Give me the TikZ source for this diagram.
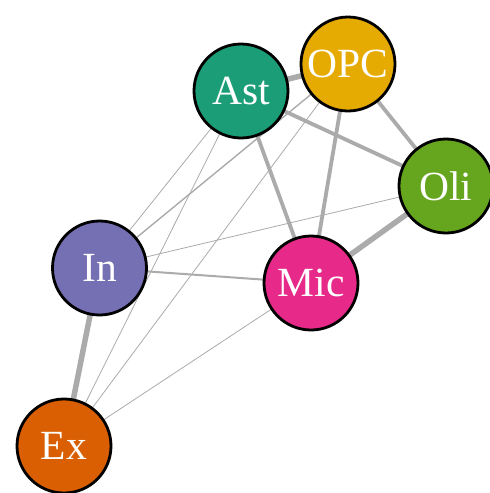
\documentclass[tikz,border=0pt]{standalone}
\usepackage{fontspec}
\setmainfont{Liberation Serif}
\usetikzlibrary{backgrounds}
\definecolor{cAst}{HTML}{1B9E77}
\definecolor{cOPC}{HTML}{E6AB02}
\definecolor{cOli}{HTML}{66A61E}
\definecolor{cIn}{HTML}{7570B3}
\definecolor{cMic}{HTML}{E7298A}
\definecolor{cEx}{HTML}{D95F02}
\definecolor{edgegray}{HTML}{ABABAB}
\begin{document}
\begin{tikzpicture}[x=1pt,y=-1pt,
  vert/.style={circle,draw=black,line width=2.8pt,minimum size=94pt,inner sep=0pt,
    text=white,font=\fontsize{41.5}{41.5}\selectfont},
  e/.style={draw=edgegray,line cap=butt},
  w1/.style={e,line width=0.8pt},
  w2/.style={e,line width=1.4pt},
  w3/.style={e,line width=2pt},
  w4/.style={e,line width=3.8pt},
  w5/.style={e,line width=5.5pt}]
\useasboundingbox (0,0) rectangle (490,493);
\clip (0,0) rectangle (490,493);
\node[vert,fill=cAst] (Ast) at (241,91) {Ast};
\node[vert,fill=cOPC] (OPC) at (348,64) {OPC};
\node[vert,fill=cOli] (Oli) at (446,186) {Oli};
\node[vert,fill=cIn] (In) at (99.5,268) {In};
\node[vert,fill=cMic] (Mic) at (311,283) {Mic};
\node[vert,fill=cEx] (Ex) at (64,446) {Ex};
\begin{pgfonlayer}{background}
\fill[white] (0,0) rectangle (490,493);
\draw[w5] (Ast.center) -- (OPC.center);
\draw[w4] (OPC.center) -- (Oli.center);
\draw[w4] (Ast.center) -- (Oli.center);
\draw[w4] (Ast.center) -- (Mic.center);
\draw[w4] (OPC.center) -- (Mic.center);
\draw[w5] (Oli.center) -- (Mic.center);
\draw[w1] (In.center) -- (Ast.center);
\draw[w2] (In.center) -- (OPC.center);
\draw[w1] (In.center) -- (Oli.center);
\draw[w3] (In.center) -- (Mic.center);
\draw[w5] (In.center) -- (Ex.center);
\draw[w1] (Ex.center) -- (Ast.center);
\draw[w1] (Ex.center) -- (OPC.center);
\draw[w1] (Ex.center) -- (Mic.center);
\end{pgfonlayer}
\end{tikzpicture}
\end{document}
